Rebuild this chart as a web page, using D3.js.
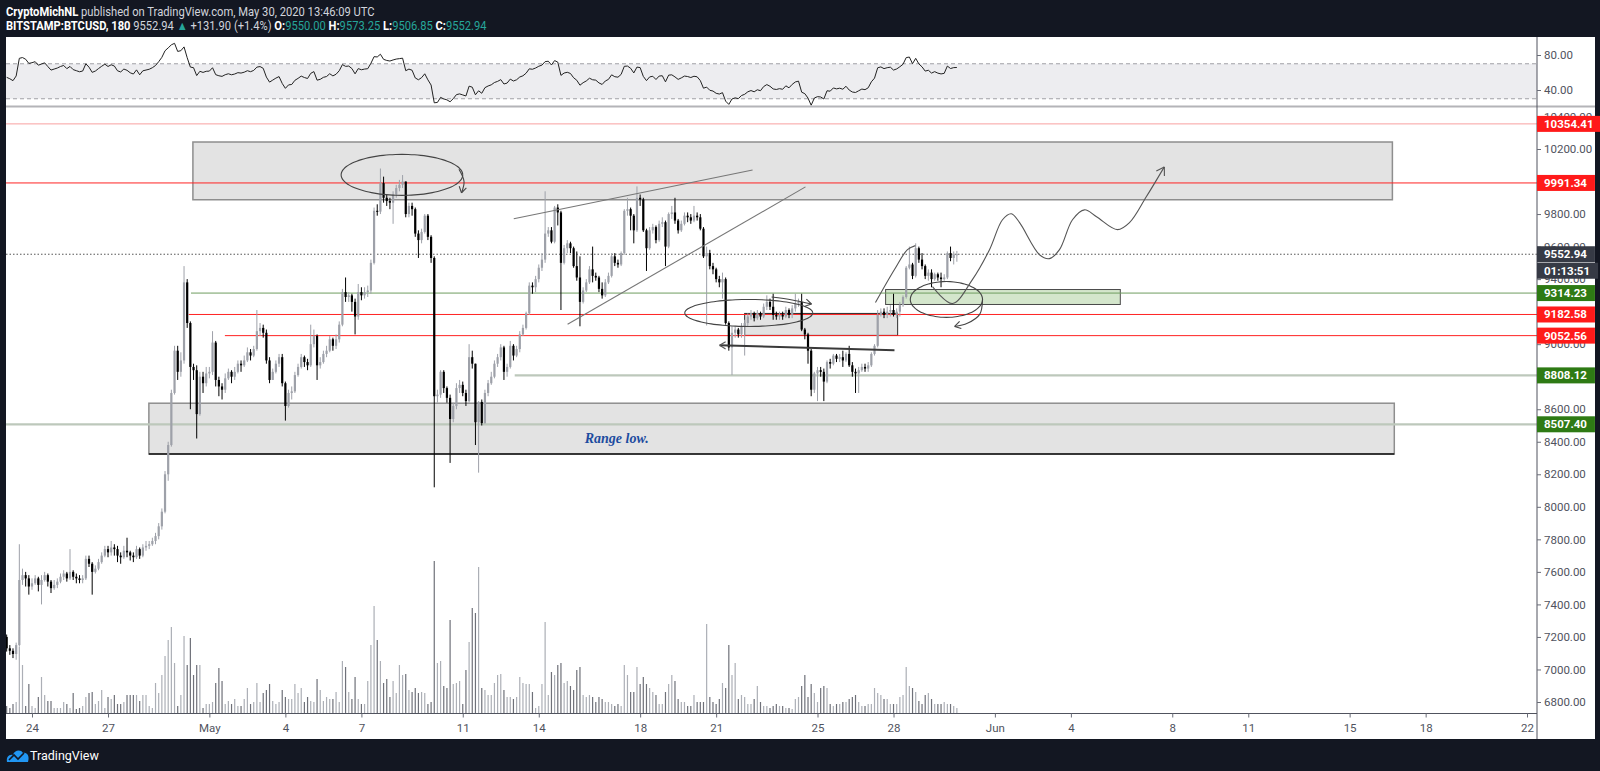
<!DOCTYPE html>
<html>
<head>
<meta charset="utf-8">
<script src="https://cdn.jsdelivr.net/npm/d3@7"></script>
<style>
  html, body { margin: 0; padding: 0; background: #131722; }
  svg { display: block; }
</style>
</head>
<body>
<svg id="chart" width="1600" height="771"></svg>
<script>
// ---- BTCUSD 3h candles, Apr 23 00:00 UTC -> May 30 12:00 UTC (one row = one day) ----
const firstOpen = 7200;
const closes = [
  7130,7115,7095,7150,7550,7580,7560,7510,
  7530,7560,7520,7550,7580,7540,7500,7520,
  7540,7570,7590,7560,7600,7570,7560,7550,
  7560,7680,7650,7600,7620,7660,7700,7740,
  7720,7750,7740,7700,7690,7730,7720,7700,
  7690,7740,7700,7750,7760,7770,7790,7820,
  7880,7970,8200,8380,8700,8960,8830,8900,
  9380,9130,8860,8840,8570,8800,8760,8820,
  8830,9010,8780,8740,8720,8790,8830,8800,
  8830,8880,8870,8900,8950,8930,8970,9080,
  9100,9070,8900,8780,8830,8880,8920,8760,
  8620,8700,8710,8810,8860,8920,8890,8870,
  9000,9050,8870,8890,8940,8960,9030,8990,
  9030,9120,9320,9290,9300,9260,9170,9320,
  9300,9320,9330,9500,9820,9815,9990,9900,
  9880,9870,9920,9960,9980,10000,9800,9850,
  9830,9680,9640,9690,9790,9660,9530,8680,
  8690,8830,8730,8670,8540,8620,8730,8750,
  8700,8650,8920,8880,8520,8645,8515,8700,
  8760,8800,8880,8920,8980,8830,8860,8990,
  8930,8970,9060,9100,9190,9360,9350,9400,
  9470,9520,9680,9700,9630,9840,9810,9500,
  9590,9620,9590,9480,9410,9260,9330,9380,
  9460,9420,9410,9340,9300,9380,9420,9540,
  9500,9490,9560,9820,9830,9790,9700,9900,
  9890,9700,9590,9700,9720,9640,9740,9750,
  9600,9800,9810,9760,9700,9740,9790,9780,
  9760,9790,9780,9710,9540,9560,9480,9460,
  9400,9380,9400,9130,8980,9070,9090,9060,
  9110,9130,9170,9190,9160,9190,9170,9230,
  9260,9230,9180,9170,9180,9170,9210,9180,
  9220,9250,9260,9090,9060,8960,8720,8820,
  8840,8830,8770,8890,8880,8930,8910,8920,
  8900,8940,8870,8830,8820,8840,8860,8850,
  8870,8940,8990,9180,9200,9180,9200,9210,
  9180,9200,9240,9290,9470,9490,9420,9590,
  9520,9480,9420,9440,9400,9430,9410,9400,
  9410,9560,9530,9550,9552.94
];
const highs = [
  7215,7150,7130,7165,7770,7620,7600,7580,
  7560,7580,7570,7580,7600,7590,7550,7550,
  7560,7590,7610,7600,7740,7610,7590,7580,
  7580,7700,7700,7660,7640,7680,7720,7760,
  7760,7790,7770,7760,7720,7760,7810,7730,
  7720,7760,7750,7770,7790,7790,7810,7840,
  7900,7990,8220,8400,8720,8990,8990,8950,
  9480,9400,9140,8880,8870,8830,8830,8860,
  8860,9080,9020,8800,8760,8820,8850,8840,
  8860,8900,8900,8930,8980,8970,8990,9210,
  9130,9120,9090,8920,8850,8900,8940,8940,
  8770,8720,8740,8830,8880,8940,8930,8910,
  9120,9090,9060,8920,8960,8990,9050,9040,
  9060,9140,9340,9410,9320,9310,9280,9370,
  9350,9350,9360,9520,9840,9860,10080,10030,
  9920,9900,9940,9980,10010,10040,10000,9870,
  9870,9840,9700,9710,9800,9800,9670,9540,
  8720,8840,8840,8740,8690,8640,8760,8780,
  8770,8720,9000,8960,8880,8650,8660,8720,
  8780,8830,8900,8940,9000,8990,8880,9020,
  9000,8990,9080,9120,9200,9380,9380,9420,
  9490,9560,9940,9720,9720,9850,9860,9820,
  9610,9640,9630,9600,9570,9540,9350,9400,
  9480,9600,9440,9420,9380,9400,9440,9560,
  9560,9520,9570,9830,9900,9840,9800,9970,
  9920,9900,9710,9720,9740,9730,9760,9780,
  9760,9810,9850,9900,9770,9760,9810,9810,
  9800,9850,9810,9800,9720,9600,9580,9500,
  9470,9420,9440,9410,9140,9110,9110,9100,
  9130,9150,9190,9210,9200,9210,9200,9250,
  9300,9280,9310,9200,9200,9200,9230,9220,
  9240,9310,9280,9310,9100,9070,8970,8830,
  8860,8860,8850,8900,8910,8940,8940,8940,
  8960,8950,8990,8890,8850,8860,8880,8880,
  8890,8950,9000,9210,9220,9220,9230,9240,
  9310,9220,9260,9300,9480,9600,9500,9620,
  9600,9560,9490,9460,9460,9440,9440,9440,
  9430,9570,9600,9570,9573.25
];
const lows = [
  7110,7090,7070,7060,7140,7520,7510,7460,
  7490,7520,7480,7400,7540,7510,7470,7490,
  7500,7530,7550,7540,7550,7550,7530,7530,
  7530,7550,7630,7460,7590,7610,7650,7690,
  7690,7700,7700,7660,7650,7680,7690,7670,
  7660,7680,7680,7690,7730,7740,7760,7770,
  7800,7860,7960,8160,8370,8690,8780,8800,
  8880,9100,8600,8780,8420,8560,8700,8740,
  8790,8810,8740,8680,8660,8700,8780,8760,
  8780,8820,8830,8860,8890,8900,8920,8960,
  9050,9040,8880,8760,8780,8820,8860,8740,
  8530,8610,8660,8700,8800,8850,8860,8840,
  8860,8980,8780,8850,8880,8920,8950,8960,
  8970,9010,9110,9260,9260,9200,9060,9150,
  9270,9280,9290,9310,9490,9790,9800,9870,
  9850,9830,9740,9900,9940,9960,9780,9780,
  9790,9660,9530,9620,9680,9640,9500,8120,
  8640,8670,8700,8640,8270,8520,8600,8700,
  8680,8620,8640,8850,8380,8210,8500,8510,
  8680,8750,8790,8860,8900,8780,8800,8850,
  8900,8920,8950,9050,9090,9180,9310,9320,
  9380,9450,9500,9660,9620,9620,9730,9210,
  9490,9560,9560,9470,9390,9110,9250,9320,
  9370,9380,9390,9320,9280,9290,9370,9410,
  9480,9470,9480,9550,9790,9700,9620,9690,
  9850,9690,9450,9580,9680,9620,9630,9720,
  9480,9590,9770,9740,9680,9690,9730,9750,
  9740,9750,9760,9700,9530,9115,9460,9430,
  9380,9350,9280,9120,8960,8810,9040,9040,
  9040,8930,9110,9150,9140,9150,9150,9160,
  9210,9210,9150,9150,9150,9150,9160,9160,
  9160,9200,9230,9080,9030,8880,8680,8700,
  8650,8800,8650,8760,8850,8870,8890,8890,
  8860,8890,8860,8800,8700,8700,8830,8830,
  8830,8860,8930,8980,9170,9160,9160,9170,
  9170,9160,9170,9230,9280,9460,9400,9410,
  9500,9460,9400,9390,9350,9390,9390,9350,
  9390,9400,9510,9490,9506.85
];
// volume per candle (relative units)
const volumes = [
  7,5,9,11,66,48,7,29,
  7,5,16,36,18,12,12,5,
  5,5,11,9,5,20,4,5,
  7,16,20,21,9,12,23,5,
  16,14,18,9,9,11,18,18,
  18,18,12,18,18,7,5,30,
  20,38,57,73,86,50,7,18,
  77,48,75,38,48,48,5,9,
  9,11,30,45,32,9,12,9,
  14,7,7,14,25,9,11,30,
  11,20,23,29,12,9,11,23,
  16,14,14,29,20,25,11,16,
  12,11,34,23,12,16,14,14,
  21,11,52,46,21,14,36,14,
  9,9,32,68,107,73,52,30,
  34,16,32,20,48,38,39,23,
  21,25,20,21,20,9,11,152,
  50,52,27,25,93,29,30,32,
  9,43,71,105,100,146,25,23,
  18,18,30,38,39,23,16,16,
  14,16,36,30,29,29,21,5,
  7,29,91,18,41,38,48,50,
  30,32,27,23,43,46,18,16,
  18,16,11,16,14,11,11,9,
  7,9,7,48,38,21,21,46,
  29,36,29,25,21,18,9,9,
  21,29,38,32,14,11,11,7,
  7,18,11,11,11,89,16,11,
  9,14,30,25,68,38,50,14,
  18,16,9,9,14,27,11,7,
  7,5,7,9,7,7,5,5,
  4,14,16,27,38,16,29,20,
  11,25,27,25,9,7,9,9,
  11,11,14,16,18,11,7,7,
  9,9,25,20,18,14,14,9,
  9,9,16,18,46,27,25,21,
  12,9,18,20,14,9,9,9,
  11,9,9,7,5
];
// RSI(14) seed averages (RSI ~63 at the left edge)
const rsiSeedGain = 22, rsiSeedLoss = 13;

// ---- axis ticks (the ones fully covered by price labels are left out) ----
const priceTicks = [6800,7000,7200,7400,7600,7800,8000,8200,8400,8600,9000,9400,9600,9800,10200,10400];
const rsiTicks = [40, 80];
const dateTicks = ['2020-04-24','2020-04-27','2020-05-01','2020-05-04','2020-05-07','2020-05-11','2020-05-14',
  '2020-05-18','2020-05-21','2020-05-25','2020-05-28','2020-06-01','2020-06-04','2020-06-08','2020-06-11',
  '2020-06-15','2020-06-18','2020-06-22'];

// ---- drawings (candle index, price) ----
const levelPrices = [10354.41, 9991.34, 9314.23, 9182.58, 9052.56, 8808.12, 8507.40];
const levelFrom   = [-3, -3, 58.2, 57.5, 68.9, 160.4, -3];
const levelKind   = ['redLight', 'red', 'green', 'red', 'red', 'sage', 'sage'];
const lastPrice = 9552.94;
const countdown = '01:13:51';

const zones = [      // [fromIndex, toIndex, topPrice, bottomPrice]
  [58.8, 437.5, 10243, 9888],
  [44.9, 438.1, 8637, 8325],
  [233.0, 281.3, 9189, 9054],
  [277.5, 351.6, 9336, 9244]
];
const zoneKind = ['gray', 'range', 'box', 'green'];
const trendLines = [
  [[160.1, 9771], [235.5, 10071]],
  [[177.1, 9122], [252.2, 9967]]
];
const flatLine = [[225.1, 8993], [280.3, 8962]];
const ellipses = [   // [centerIndex, centerPrice, radiusIndex, radiusPrice]
  [124.8, 10041, 19.2, 126],
  [234.3, 9192, 20.2, 83],
  [296.7, 9275, 11.4, 110]
];
const arrowTails = [
  [[142.8, 10075], [144.4, 10000], [143.6, 9930]],
  [[241.5, 9290], [248, 9272], [254.1, 9247]],
  [[308.1, 9275], [307.2, 9183], [303.3, 9128], [299.3, 9109]]
];
const priorMove = [[274.3, 9256], [280.3, 9459], [284.4, 9581], [286.9, 9606]];
const forecast = [
  [292.3, 9354], [298.6, 9250], [304.9, 9397], [310.3, 9581], [314.4, 9765], [317.2, 9802],
  [319.8, 9747], [326.1, 9550], [329.2, 9526], [332.4, 9581], [336.5, 9765], [340.3, 9826],
  [344.1, 9783], [350.7, 9704], [354.5, 9747], [359.8, 9906], [365.5, 10090]
];
const rangeNote = {i: 192.6, p: 8425, text: 'Range low.'};

// ---- scales ----
const t0 = Date.UTC(2020, 3, 23);
const step = 3 * 3600 * 1000;
const at = i => new Date(t0 + i * step);
const x = d3.scaleUtc()
  .domain([new Date(Date.UTC(2020, 3, 24)), new Date(Date.UTC(2020, 5, 22))])
  .range([32, 1527]);
const px = i => x(at(i));
const y = d3.scaleLinear().domain([6800, 10200]).range([702, 149]);
const yRsi = d3.scaleLinear().domain([40, 80]).range([90, 55]);
const yVol = d3.scaleLinear().domain([0, 160]).range([713, 553]);

const AX = 1537;   // price axis x
const FONT = 'Roboto, "Liberation Sans", sans-serif';

const opens = closes.map((c, i) => i ? closes[i - 1] : firstOpen);
const candles = closes.map((c, i) => ({i, o: opens[i], h: highs[i], l: lows[i], c, v: volumes[i]}));

let ag = rsiSeedGain, al = rsiSeedLoss;
const rsi = closes.map((c, i) => {
  const ch = c - opens[i];
  ag = (ag * 13 + Math.max(ch, 0)) / 14;
  al = (al * 13 + Math.max(-ch, 0)) / 14;
  return {i, v: 100 - 100 / (1 + ag / al)};
});

const svg = d3.select('#chart');
svg.append('rect').attr('width', 1600).attr('height', 771).attr('fill', '#131722');
svg.append('rect').attr('x', 6).attr('y', 37).attr('width', 1589).attr('height', 702).attr('fill', '#fff');

const defs = svg.append('defs');
defs.append('clipPath').attr('id', 'mainClip')
  .append('rect').attr('x', 6).attr('y', 108).attr('width', AX - 6).attr('height', 605);
defs.append('clipPath').attr('id', 'rsiClip')
  .append('rect').attr('x', 6).attr('y', 37).attr('width', AX - 6).attr('height', 69);

// ---- header (each line squeezed horizontally to the width it has in the screenshot) ----
const teal = '#26a69a';
const headLines = [
  {y: 16, width: 369, parts: [['CryptoMichNL', '#fff', 'bold'],
    [' published on TradingView.com, May 30, 2020 13:46:09 UTC', null]]},
  {y: 30, width: 481, parts: [['BITSTAMP:BTCUSD, 180', '#fff', 'bold'], [' 9552.94 ', null], ['▲', teal],
    [' +131.90 (+1.4%) ', null], ['O:', '#fff', 'bold'], ['9550.00', teal], [' H:', '#fff', 'bold'],
    ['9573.25', teal], [' L:', '#fff', 'bold'], ['9506.85', teal], [' C:', '#fff', 'bold'], ['9552.94', teal]]}
];
headLines.forEach(hl => {
  const g = svg.append('g');
  const t = g.append('text').attr('x', 0).attr('y', 0)
    .attr('font-family', FONT).attr('font-size', 12.5).attr('fill', '#d1d4dc');
  hl.parts.forEach(([s, col, w]) => {
    const sp = t.append('tspan').text(s);
    if (col) sp.attr('fill', col);
    if (w) sp.attr('font-weight', w);
  });
  const natural = t.node().getComputedTextLength();
  g.attr('transform', `translate(6,${hl.y}) scale(${hl.width / natural},1)`);
});

// ---- RSI pane ----
const rsiG = svg.append('g').attr('clip-path', 'url(#rsiClip)');
rsiG.append('rect').attr('x', 6).attr('width', AX - 6)
  .attr('y', yRsi(70)).attr('height', yRsi(30) - yRsi(70)).attr('fill', '#ededf0');
[70, 30].forEach(v => rsiG.append('line').attr('x1', 6).attr('x2', AX)
  .attr('y1', yRsi(v)).attr('y2', yRsi(v))
  .attr('stroke', '#a0a0a6').attr('stroke-dasharray', '4,3'));
rsiG.append('path').datum(rsi)
  .attr('d', d3.line().x(d => px(d.i)).y(d => yRsi(d.v)))
  .attr('fill', 'none').attr('stroke', '#222').attr('stroke-width', 1);
svg.append('line').attr('x1', 6).attr('x2', 1595).attr('y1', 106.5).attr('y2', 106.5)
  .attr('stroke', '#b4b4b8').attr('stroke-width', 2);

// ---- main pane ----
const main = svg.append('g').attr('clip-path', 'url(#mainClip)');

main.append('g').selectAll('rect').data(candles).join('rect')
  .attr('x', d => px(d.i) - 0.6).attr('width', 1.2)
  .attr('y', d => yVol(d.v)).attr('height', d => yVol(0) - yVol(d.v))
  .attr('fill', d => d.c >= d.o ? '#acafb6' : '#6f7179');

const zoneStyle = {
  gray:  {fill: '#e3e3e3', stroke: '#8e8e8e', sw: 1.5},
  range: {fill: '#e3e3e3', stroke: '#8e8e8e', sw: 1.5},
  box:   {fill: '#e3e3e3', stroke: '#2a2a2a', sw: 1},
  green: {fill: '#cfe3c6', stroke: '#4a4a4a', sw: 1}
};
zones.forEach((z, k) => {
  const st = zoneStyle[zoneKind[k]];
  main.append('rect').attr('x', px(z[0])).attr('width', px(z[1]) - px(z[0]))
    .attr('y', y(z[2])).attr('height', y(z[3]) - y(z[2]))
    .attr('fill', st.fill).attr('fill-opacity', zoneKind[k] === 'green' ? 0.9 : 1)
    .attr('stroke', st.stroke).attr('stroke-width', st.sw);
  if (zoneKind[k] === 'range') {
    main.append('line').attr('x1', px(z[0])).attr('x2', px(z[1]))
      .attr('y1', y(z[3])).attr('y2', y(z[3])).attr('stroke', '#111').attr('stroke-width', 1.5);
  }
});

const kindStyle = {
  redLight: {line: '#f8a0a0', w: 1, label: '#ff1a1a'},
  red:      {line: '#ff2222', w: 1, label: '#ff1a1a'},
  green:    {line: '#6e9c5f', w: 1, label: '#2e7a14'},
  sage:     {line: '#bdc8bb', w: 2.2, label: '#2e7a14'}
};
levelPrices.forEach((p, k) => {
  const st = kindStyle[levelKind[k]];
  main.append('line').attr('x1', px(levelFrom[k])).attr('x2', AX)
    .attr('y1', y(p)).attr('y2', y(p)).attr('stroke', st.line).attr('stroke-width', st.w);
});
main.append('line').attr('x1', 6).attr('x2', AX).attr('y1', y(lastPrice)).attr('y2', y(lastPrice))
  .attr('stroke', '#555').attr('stroke-dasharray', '1.5,2');

// candles
const cg = main.append('g');
cg.selectAll('line').data(candles).join('line')
  .attr('x1', d => px(d.i)).attr('x2', d => px(d.i))
  .attr('y1', d => y(d.h)).attr('y2', d => y(d.l))
  .attr('stroke', d => d.c >= d.o ? '#9ea1a9' : '#000').attr('stroke-width', 1);
cg.selectAll('rect').data(candles).join('rect')
  .attr('x', d => px(d.i) - 1.1).attr('width', 2.2)
  .attr('y', d => y(Math.max(d.o, d.c)))
  .attr('height', d => Math.max(1, Math.abs(y(d.o) - y(d.c))))
  .attr('fill', d => d.c >= d.o ? '#9ea1a9' : '#000');

// drawings
const ln = d3.line().x(d => px(d[0])).y(d => y(d[1]));
const smooth = d3.line().x(d => px(d[0])).y(d => y(d[1])).curve(d3.curveCatmullRom.alpha(0.5));
const dg = main.append('g').attr('fill', 'none');

trendLines.forEach(t => dg.append('path').attr('d', ln(t)).attr('stroke', '#777').attr('stroke-width', 1.1));
dg.append('path').attr('d', ln(flatLine)).attr('stroke', '#3a3a3a').attr('stroke-width', 2);

function head2(g, a, b, size, col) {
  const ang = Math.atan2(b[1] - a[1], b[0] - a[0]);
  [-0.55, 0.55].forEach(s => g.append('line')
    .attr('x1', b[0]).attr('y1', b[1])
    .attr('x2', b[0] - size * Math.cos(ang + s)).attr('y2', b[1] - size * Math.sin(ang + s))
    .attr('stroke', col).attr('stroke-width', 1.1));
}
// left arrowhead on the flat line
head2(dg, [px(flatLine[0][0]) + 10, y(flatLine[0][1])], [px(flatLine[0][0]), y(flatLine[0][1])], 7, '#555');

ellipses.forEach(e => {
  const pts = d3.range(0, 61).map(k => {
    const a = k / 60 * 2 * Math.PI;
    return [e[0] + e[2] * Math.cos(a), e[1] + e[3] * Math.sin(a)];
  });
  dg.append('path').attr('d', smooth(pts)).attr('stroke', '#444').attr('stroke-width', 1.1);
});
arrowTails.forEach(t => {
  dg.append('path').attr('d', smooth(t)).attr('stroke', '#444').attr('stroke-width', 1.1);
  const a = t[t.length - 2], b = t[t.length - 1];
  head2(dg, [px(a[0]), y(a[1])], [px(b[0]), y(b[1])], 7, '#444');
});
dg.append('path').attr('d', smooth(priorMove)).attr('stroke', '#555').attr('stroke-width', 1.1);
dg.append('path').attr('d', smooth(forecast)).attr('stroke', '#555').attr('stroke-width', 1.1);
{
  const a = forecast[forecast.length - 2], b = forecast[forecast.length - 1];
  head2(dg, [px(a[0]), y(a[1])], [px(b[0]), y(b[1])], 9, '#555');
}

main.append('text').attr('x', px(rangeNote.i)).attr('y', y(rangeNote.p) + 5)
  .attr('text-anchor', 'middle').attr('font-family', '"Liberation Serif", "DejaVu Serif", serif')
  .attr('font-style', 'italic').attr('font-weight', 'bold').attr('font-size', 14)
  .attr('fill', '#1d4c9f').text(rangeNote.text);

// ---- axes ----
svg.append('line').attr('x1', AX).attr('x2', AX).attr('y1', 37).attr('y2', 739)
  .attr('stroke', '#50535e').attr('stroke-width', 1);
svg.append('line').attr('x1', 6).attr('x2', AX).attr('y1', 713.5).attr('y2', 713.5)
  .attr('stroke', '#50535e').attr('stroke-width', 1);

function styleAxis(g) {
  g.select('.domain').remove();
  g.selectAll('line').attr('stroke', '#6a6d78');
  g.selectAll('text').attr('fill', '#50535e').attr('font-family', FONT).attr('font-size', 11.5);
}
svg.append('g').attr('transform', `translate(${AX},0)`)
  .call(d3.axisRight(y).tickValues(priceTicks).tickFormat(d3.format('.2f')).tickSize(4).tickPadding(3))
  .call(styleAxis);
svg.append('g').attr('transform', `translate(${AX},0)`)
  .call(d3.axisRight(yRsi).tickValues(rsiTicks).tickFormat(d3.format('.2f')).tickSize(4).tickPadding(3))
  .call(styleAxis);

const monthFmt = d3.utcFormat('%b');
svg.append('g').attr('transform', 'translate(0,713.5)')
  .call(d3.axisBottom(x).tickValues(dateTicks.map(s => new Date(s + 'T00:00:00Z')))
    .tickFormat(d => d.getUTCDate() === 1 ? monthFmt(d) : String(d.getUTCDate()))
    .tickSize(4).tickPadding(6))
  .call(styleAxis);

// ---- price labels on the axis ----
const labels = levelPrices.map((p, k) => ({yy: y(p), text: d3.format('.2f')(p), bg: kindStyle[levelKind[k]].label}))
  .concat([{yy: y(lastPrice), text: d3.format('.2f')(lastPrice), bg: '#363a45'},
           {yy: y(lastPrice) + 16.5, text: countdown, bg: '#363a45'}]);
const lg = svg.append('g').attr('font-family', FONT).attr('font-size', 11.5).attr('font-weight', 'bold');
labels.forEach(l => {
  const g = lg.append('g');
  const r = g.append('rect').attr('x', AX).attr('y', l.yy - 8).attr('height', 16).attr('fill', l.bg);
  const t = g.append('text').attr('x', AX + 7).attr('y', l.yy + 4).attr('fill', '#fff').text(l.text);
  r.attr('width', t.node().getComputedTextLength() + 15);
});

// ---- footer ----
const foot = svg.append('g').attr('transform', 'translate(6,748)');
foot.append('path').attr('d', 'M1,14 C0,9 3,6 7,7 C8,2 15,1 17,5 C21,4 24,8 22,14 Z').attr('fill', '#2196f3');
foot.append('path').attr('d', 'M3,12 L8,7 L12,11 L18,5').attr('fill', 'none').attr('stroke', '#131722').attr('stroke-width', 1.6);
svg.append('text').attr('x', 30).attr('y', 760).attr('fill', '#fff')
  .attr('font-family', FONT).attr('font-size', 12.5).text('TradingView');
</script>
</body>
</html>
